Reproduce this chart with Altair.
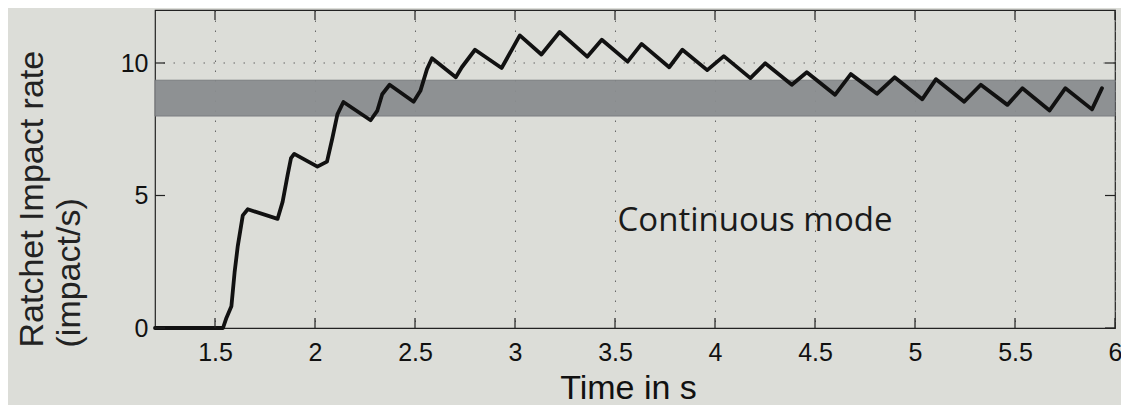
import altair as alt
import pandas as pd

# ---- data ----
time_s = [1.2, 1.54, 1.557, 1.582, 1.598, 1.614, 1.639, 1.664, 1.813, 1.838, 1.863, 1.88, 1.896,
          2.012, 2.06, 2.087, 2.112, 2.142, 2.278, 2.311, 2.336, 2.373, 2.493, 2.527, 2.56, 2.585,
          2.704, 2.734, 2.8, 2.933, 3.024, 3.132, 3.223, 3.361, 3.434, 3.563, 3.633, 3.771, 3.837,
          3.961, 4.044, 4.177, 4.251, 4.384, 4.459, 4.6, 4.679, 4.81, 4.898, 5.036, 5.105, 5.246,
          5.329, 5.462, 5.537, 5.673, 5.752, 5.885, 5.935]
impact_rate = [0, 0, 0.38, 0.82, 2.1, 3.1, 4.25, 4.48, 4.12, 4.76, 5.77, 6.41, 6.57,
               6.09, 6.28, 7.17, 8.06, 8.53, 7.84, 8.19, 8.82, 9.18, 8.54, 8.95, 9.77, 10.18,
               9.46, 9.84, 10.5, 9.81, 11.04, 10.32, 11.17, 10.24, 10.88, 10.05, 10.72, 9.84, 10.5,
               9.73, 10.26, 9.43, 9.99, 9.18, 9.65, 8.80, 9.58, 8.84, 9.46, 8.63, 9.39, 8.54,
               9.18, 8.42, 9.05, 8.21, 9.05, 8.25, 9.05]

band_low = [8.0]
band_high = [9.35]

x_ticks = [1.5, 2, 2.5, 3, 3.5, 4, 4.5, 5, 5.5, 6]
y_ticks = [0, 5, 10]
y_grid = [10]

note_text = ["Continuous mode"]
note_x = [4.2]
note_y = [4.05]

X_DOMAIN = [1.2, 6]
Y_DOMAIN = [0, 12]

# ---- tables ----
line_df = pd.DataFrame({"t": time_s, "v": impact_rate})
band_df = pd.DataFrame({"lo": band_low, "hi": band_high})
xt_df = pd.DataFrame({"t": x_ticks})
yt_df = pd.DataFrame({"v": y_ticks})
yg_df = pd.DataFrame({"v": y_grid})
note_df = pd.DataFrame({"label": note_text, "t": note_x, "v": note_y})

FONT = "Liberation Sans"
INK = "#111111"

xscale = alt.Scale(domain=X_DOMAIN, nice=False, zero=False)
yscale = alt.Scale(domain=Y_DOMAIN, nice=False, zero=False)

x_axis = alt.Axis(
    values=x_ticks, format="~g", grid=True, gridDash=[1.5, 8.5], gridColor="#666666",
    gridWidth=1, tickSize=0, domain=False, labelFontSize=25, labelFont=FONT,
    labelColor=INK, labelPadding=12, labelFlush=False, labelOverlap=False,
    title="Time in s", titleFont=FONT, titleFontSize=34, titleFontWeight="normal",
    titleColor=INK, titleX=473, titleY=70, titleAlign="center", titleBaseline="alphabetic",
)
y_axis = alt.Axis(
    values=y_ticks, grid=False, tickSize=0, domain=False, labelFontSize=25,
    labelFont=FONT, labelColor=INK, labelPadding=7,
    title=["Ratchet Impact rate", "(impact/s)"], titleFont=FONT, titleFontSize=34,
    titleFontWeight="normal", titleColor="#222222", titleAngle=270, titleAlign="left",
    titleBaseline="top", titleX=-140, titleY=337, titleLineHeight=37,
)

band = alt.Chart(band_df).mark_rect(
    color="#8a8d90", opacity=0.95, stroke="#76797c", strokeWidth=1
).encode(
    y=alt.Y("lo:Q", scale=yscale, axis=y_axis),
    y2="hi:Q",
)

hgrid = alt.Chart(yg_df).mark_rule(
    color="#666666", strokeDash=[1.5, 8.5], strokeWidth=1
).encode(y=alt.Y("v:Q", scale=yscale))

line = alt.Chart(line_df).mark_line(
    color=INK, strokeWidth=3.8, strokeJoin="round", strokeCap="round"
).encode(
    x=alt.X("t:Q", scale=xscale, axis=x_axis),
    y=alt.Y("v:Q", scale=yscale),
)

note = alt.Chart(note_df).mark_text(
    font="Open Sans", fontSize=33, color="#1a1a1a", align="center", baseline="middle"
).encode(
    x=alt.X("t:Q", scale=xscale),
    y=alt.Y("v:Q", scale=yscale),
    text="label:N",
)

tick_style = dict(color="#222222", strokeWidth=1.2)
bottom_ticks = alt.Chart(xt_df).mark_rule(y2Offset=-10, **tick_style).encode(
    x=alt.X("t:Q", scale=xscale), y=alt.datum(0), y2=alt.datum(0))
top_ticks = alt.Chart(xt_df).mark_rule(y2Offset=10, **tick_style).encode(
    x=alt.X("t:Q", scale=xscale), y=alt.datum(12), y2=alt.datum(12))
left_ticks = alt.Chart(yt_df).mark_rule(x2Offset=10, **tick_style).encode(
    y=alt.Y("v:Q", scale=yscale), x=alt.datum(1.2), x2=alt.datum(1.2))
right_ticks = alt.Chart(yt_df).mark_rule(x2Offset=-10, **tick_style).encode(
    y=alt.Y("v:Q", scale=yscale), x=alt.datum(6), x2=alt.datum(6))

chart = alt.layer(
    band, hgrid, line, note, bottom_ticks, top_ticks, left_ticks, right_ticks
).properties(
    width=960, height=318,
    autosize=alt.AutoSizeParams(type="none"),
    padding={"left": 147, "top": 2, "right": 6, "bottom": 77},
    background="#dcddd8",
).configure_view(
    stroke="#222222", strokeWidth=1.2, fill="#dcddd8"
)

chart.save("out.html", embed_options={"renderer": "svg", "actions": False})
